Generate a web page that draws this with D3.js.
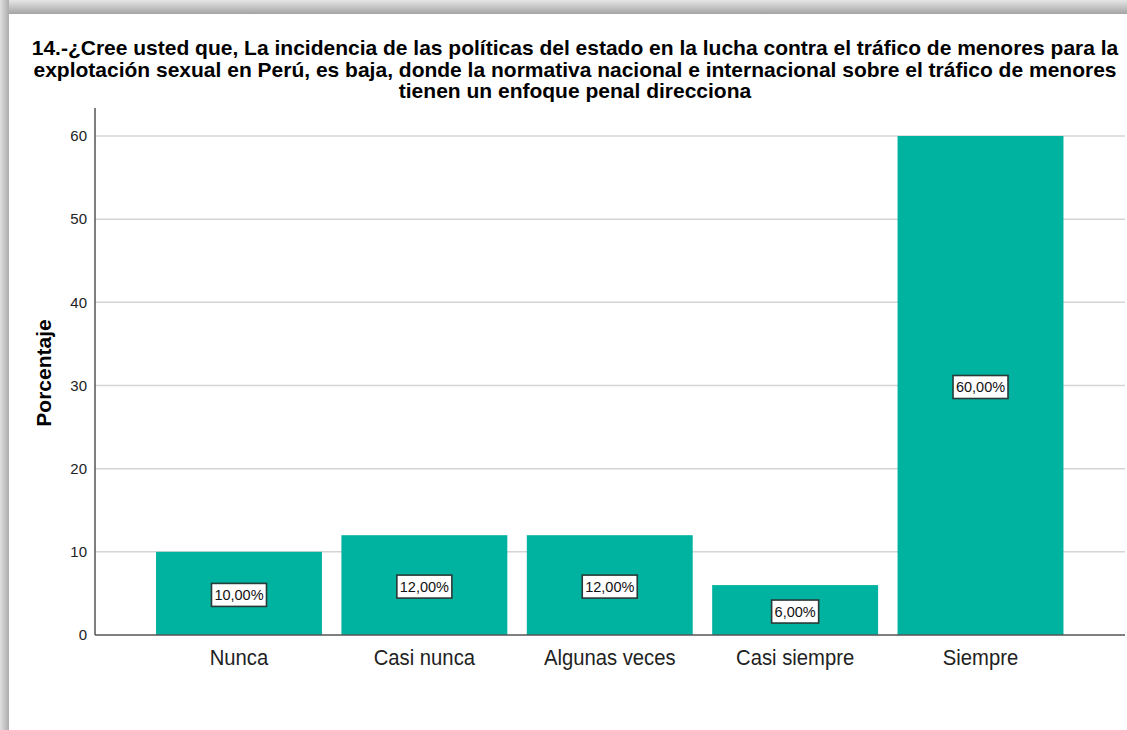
<!DOCTYPE html>
<html>
<head>
<meta charset="utf-8">
<script src="https://cdnjs.cloudflare.com/ajax/libs/d3/7.8.5/d3.min.js"></script>
<style>
  body { margin: 0; background: #fff; }
  svg text { font-family: "Liberation Sans", Arial, sans-serif; }
</style>
</head>
<body>
<script>
var categories = ["Nunca", "Casi nunca", "Algunas veces", "Casi siempre", "Siempre"];
var values = [10, 12, 12, 6, 60];
var valueLabels = ["10,00%", "12,00%", "12,00%", "6,00%", "60,00%"];
var yTicks = [0, 10, 20, 30, 40, 50, 60];
var titleLines = [
  "14.-¿Cree usted que, La incidencia de las políticas del estado en la lucha contra el tráfico de menores para la",
  "explotación sexual en Perú, es baja, donde la normativa nacional e internacional sobre el tráfico de menores",
  "tienen un enfoque penal direcciona"
];

var W = 1127, H = 730;
var svg = d3.select("body").append("svg")
  .attr("width", W)
  .attr("height", H);

// frame shadow
var defs = svg.append("defs");
var gTop = defs.append("linearGradient").attr("id", "gtop")
  .attr("x1", 0).attr("y1", 0).attr("x2", 0).attr("y2", 1);
gTop.append("stop").attr("offset", "0%").attr("stop-color", "#e6e6e6");
gTop.append("stop").attr("offset", "100%").attr("stop-color", "#a4a4a4");
var gLeft = defs.append("linearGradient").attr("id", "gleft")
  .attr("x1", 0).attr("y1", 0).attr("x2", 1).attr("y2", 0);
gLeft.append("stop").attr("offset", "0%").attr("stop-color", "#e0e0e0");
gLeft.append("stop").attr("offset", "100%").attr("stop-color", "#acacac");

svg.append("rect").attr("x", 0).attr("y", 0).attr("width", W).attr("height", 14).attr("fill", "url(#gtop)");
svg.append("rect").attr("x", 0).attr("y", 0).attr("width", 9).attr("height", H).attr("fill", "url(#gleft)");
svg.append("rect").attr("x", 9).attr("y", 14).attr("width", W - 9).attr("height", H - 14).attr("fill", "#fff");

// title
svg.append("g").selectAll("text")
  .data(titleLines)
  .enter()
  .append("text")
  .attr("x", 575)
  .attr("y", function(d, i) { return 55 + i * 21.5; })
  .attr("text-anchor", "middle")
  .attr("font-size", "21px")
  .attr("font-weight", "bold")
  .attr("fill", "#000")
  .text(function(d) { return d; });

var x = d3.scaleBand()
  .domain(categories)
  .range([146.3, 1073.2])
  .paddingInner(0.105)
  .paddingOuter(0.0525);

var y = d3.scaleLinear()
  .domain([0, 60])
  .range([635, 136]);

var axisX0 = 95, gridX1 = 1125;

// gridlines
svg.append("g").selectAll("line")
  .data(yTicks.filter(function(d) { return d > 0; }))
  .enter()
  .append("line")
  .attr("x1", axisX0)
  .attr("x2", gridX1)
  .attr("y1", function(d) { return y(d); })
  .attr("y2", function(d) { return y(d); })
  .attr("stroke", "#d4d4d4")
  .attr("stroke-width", 1.5);

// bars
svg.append("g").selectAll("rect")
  .data(values)
  .enter()
  .append("rect")
  .attr("x", function(d, i) { return x(categories[i]); })
  .attr("y", function(d) { return y(d); })
  .attr("width", x.bandwidth())
  .attr("height", function(d) { return y(0) - y(d); })
  .attr("fill", "#00b2a0");

// y axis
var yAxis = d3.axisLeft(y).tickValues(yTicks).tickSize(0).tickPadding(8);
var gy = svg.append("g").attr("transform", "translate(" + axisX0 + ",0)").call(yAxis);
gy.select(".domain").remove();
gy.selectAll("text").attr("font-size", "15px").attr("fill", "#222");
svg.append("line").attr("x1", axisX0).attr("x2", axisX0).attr("y1", 108).attr("y2", 635)
  .attr("stroke", "#555").attr("stroke-width", 1.5);

// x axis
var xAxis = d3.axisBottom(x).tickSize(0).tickPadding(14);
var gx = svg.append("g").attr("transform", "translate(0,635)").call(xAxis);
gx.select(".domain").remove();
gx.selectAll("text")
  .attr("font-size", "22px")
  .attr("fill", "#222")
  .each(function() {
    var len = this.getComputedTextLength();
    d3.select(this).attr("textLength", len * 0.92).attr("lengthAdjust", "spacingAndGlyphs");
  });
svg.append("line").attr("x1", axisX0).attr("x2", gridX1).attr("y1", 635).attr("y2", 635)
  .attr("stroke", "#555").attr("stroke-width", 1.5);

// y label
svg.append("text")
  .attr("transform", "translate(51,373) rotate(-90)")
  .attr("text-anchor", "middle")
  .attr("font-size", "21px")
  .attr("font-weight", "bold")
  .text("Porcentaje");

// value labels
var lbl = svg.append("g").selectAll("g")
  .data(values)
  .enter()
  .append("g")
  .attr("transform", function(d, i) {
    return "translate(" + (x(categories[i]) + x.bandwidth() / 2) + "," + (y(d / 2) + 1.5) + ")";
  });
lbl.append("rect")
  .attr("x", function(d, i) { return valueLabels[i].length === 5 ? -23.5 : -27.5; })
  .attr("y", -11.5)
  .attr("width", function(d, i) { return valueLabels[i].length === 5 ? 47 : 55; })
  .attr("height", 23)
  .attr("fill", "#fff")
  .attr("stroke", "#2a3a38")
  .attr("stroke-width", 1.6);
lbl.append("text")
  .attr("text-anchor", "middle")
  .attr("dy", "0.36em")
  .attr("font-size", "14.5px")
  .attr("fill", "#111")
  .text(function(d, i) { return valueLabels[i]; });
</script>
</body>
</html>
